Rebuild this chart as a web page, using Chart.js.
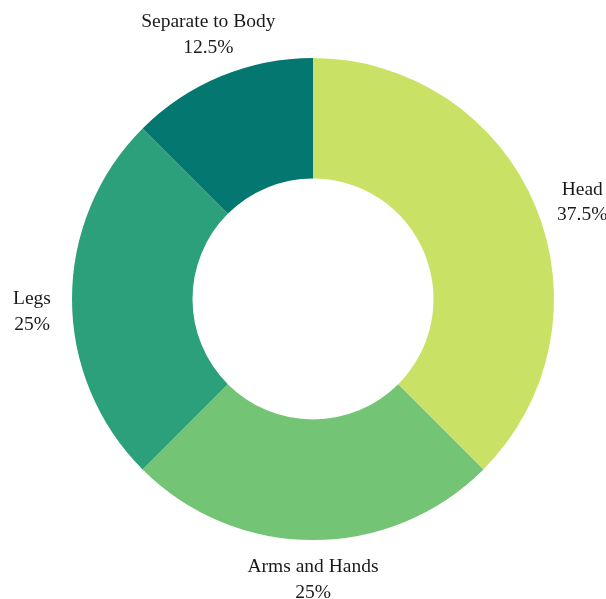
<!DOCTYPE html>
<html>
<head>
<meta charset="utf-8">
<script src="https://cdn.jsdelivr.net/npm/chart.js@4/dist/chart.umd.min.js"></script>
<style>
  html, body { margin: 0; padding: 0; background: #ffffff; }
  canvas { display: block; }
</style>
</head>
<body>
<canvas id="c" width="606" height="599"></canvas>
<script>
const categories = ["Head", "Arms and Hands", "Legs", "Separate to Body"];
const values = [37.5, 25, 25, 12.5];
const valueLabels = ["37.5%", "25%", "25%", "12.5%"];
const colors = ["#c9e266", "#74c476", "#2ca07b", "#037770"];

const outsideLabels = {
  id: 'outsideLabels',
  afterDatasetsDraw(chart) {
    const ctx = chart.ctx;
    const meta = chart.getDatasetMeta(0);
    ctx.save();
    ctx.font = '19.5px "Liberation Serif", "Times New Roman", serif';
    ctx.fillStyle = '#1a1a1a';
    ctx.textAlign = 'center';
    ctx.textBaseline = 'middle';
    const lineGap = 25.5;
    meta.data.forEach((arc, i) => {
      const p = arc.getProps(['x', 'y', 'startAngle', 'endAngle', 'outerRadius'], true);
      const mid = (p.startAngle + p.endAngle) / 2;
      const r = p.outerRadius + 45;
      const s = Math.sin(mid);
      const dx = 5 * Math.min(1, (1 - s * s) * 6.5);
      const dy = (12 - 18 * s * s) + (s < -0.1 ? 3.5 : 1);
      const x = p.x + Math.cos(mid) * r + dx;
      const y = p.y + s * r + dy;
      ctx.fillText(categories[i], x, y - lineGap / 2);
      ctx.fillText(valueLabels[i], x, y + lineGap / 2);
    });
    ctx.restore();
  }
};

new Chart(document.getElementById('c'), {
  type: 'doughnut',
  data: {
    labels: categories,
    datasets: [{
      data: values,
      backgroundColor: colors,
      borderWidth: 0
    }]
  },
  options: {
    responsive: false,
    animation: false,
    cutout: '50%',
    layout: { padding: { top: 58, bottom: 59, left: 72, right: 52 } },
    plugins: {
      legend: { display: false },
      tooltip: { enabled: false }
    }
  },
  plugins: [outsideLabels]
});
</script>
</body>
</html>
